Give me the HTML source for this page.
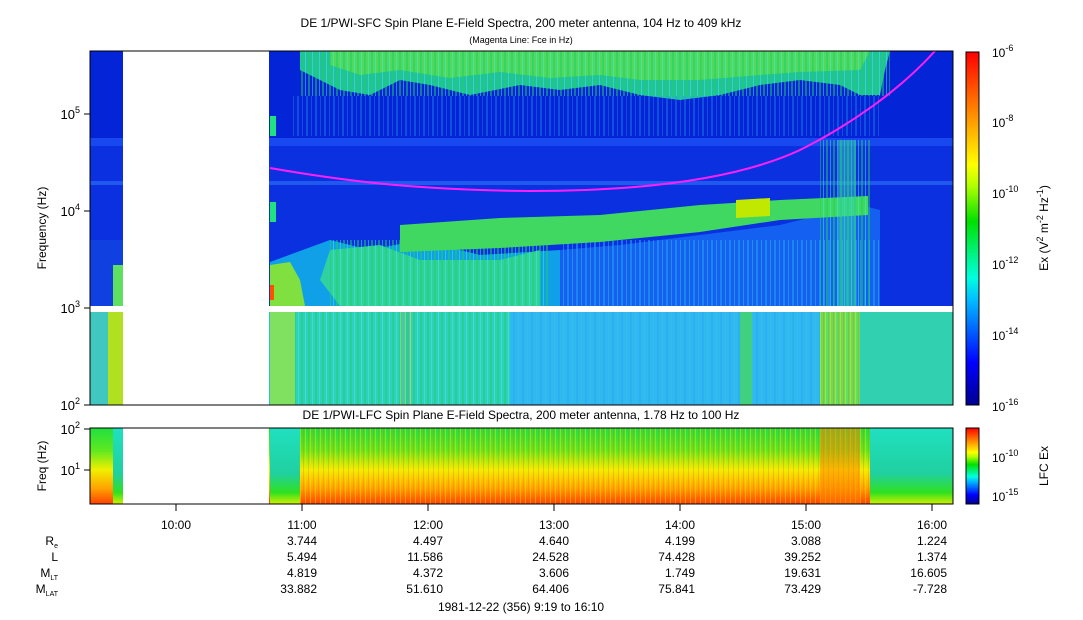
<!DOCTYPE html>
<html><head><meta charset="utf-8"><style>
body{margin:0;background:#fff;}
svg{display:block;font-family:"Liberation Sans",sans-serif;}
</style></head><body>
<svg width="1083" height="620" viewBox="0 0 1083 620" xmlns="http://www.w3.org/2000/svg">
<defs>
<linearGradient id="cb" x1="0" y1="1" x2="0" y2="0">
<stop offset="0" stop-color="#00008f"/><stop offset="0.12" stop-color="#0000ff"/><stop offset="0.3" stop-color="#00bfff"/><stop offset="0.36" stop-color="#00ffe0"/><stop offset="0.52" stop-color="#00e000"/><stop offset="0.62" stop-color="#b0ff00"/><stop offset="0.68" stop-color="#ffff00"/><stop offset="0.82" stop-color="#ff9000"/><stop offset="1" stop-color="#ff0000"/>
</linearGradient>
<linearGradient id="lowg" x1="0" y1="0" x2="0" y2="1">
<stop offset="0" stop-color="#20e040"/><stop offset="0.3" stop-color="#60e820"/><stop offset="0.55" stop-color="#f0f000"/><stop offset="0.8" stop-color="#ffa000"/><stop offset="1" stop-color="#ff4000"/>
</linearGradient>
<linearGradient id="lowr" x1="0" y1="0" x2="0" y2="1">
<stop offset="0" stop-color="#20e0c0"/><stop offset="0.6" stop-color="#20d0a0"/><stop offset="0.85" stop-color="#30e020"/><stop offset="1" stop-color="#d0f000"/>
</linearGradient>
<pattern id="vs" width="7" height="10" patternUnits="userSpaceOnUse"><rect width="2" height="10" fill="#20d060" opacity="0.5"/><rect x="4" width="1" height="10" fill="#40f0d0" opacity="0.5"/></pattern>
<pattern id="vb" width="9" height="10" patternUnits="userSpaceOnUse"><rect width="2" height="10" fill="#20a0f0" opacity="0.6"/><rect x="5" width="1" height="10" fill="#40d0e0" opacity="0.4"/></pattern>
<pattern id="vs2" width="5" height="10" patternUnits="userSpaceOnUse"><rect width="1" height="10" fill="#ffe000" opacity="0.45"/><rect x="3" width="1" height="10" fill="#ff6000" opacity="0.3"/></pattern>
</defs>
<text x="521" y="27" font-size="12" text-anchor="middle">DE 1/PWI-SFC  Spin Plane E-Field Spectra, 200 meter antenna, 104 Hz to 409 kHz</text>
<text x="521" y="43" font-size="9" text-anchor="middle">(Magenta Line: Fce in Hz)</text>

<rect x="90" y="51" width="863" height="255" fill="#0a30e0"/>
<rect x="90" y="51" width="863" height="90" fill="#0424d8"/>
<rect x="90" y="138" width="863" height="8" fill="#1848f0"/>
<rect x="90" y="181" width="863" height="4" fill="#2058f0"/>
<path d="M300,51 L890,51 L885,70 L880,95 L860,95 L840,85 L800,80 L760,85 L720,95 L680,100 L640,95 L600,85 L560,90 L520,85 L470,95 L430,85 L400,80 L370,95 L340,90 L320,80 L300,70Z" fill="#20c0a0"/>
<path d="M330,51 L870,51 L860,70 L800,72 L760,75 L700,80 L640,80 L600,75 L550,78 L500,72 L450,78 L400,70 L360,75 L330,65Z" fill="#50d860"/>
<rect x="300" y="51" width="590" height="45" fill="url(#vs)"/>
<rect x="290" y="96" width="590" height="40" fill="url(#vb)" opacity="0.6"/>
<!-- lower region -->
<path d="M270,262 L330,240 L370,250 L420,240 L480,255 L560,250 L560,306 L270,306Z" fill="#10a0e8"/>
<path d="M560,250 L620,245 L700,235 L780,225 L860,205 L880,210 L880,306 L560,306Z" fill="#1460f0"/>
<rect x="560" y="240" width="320" height="66" fill="url(#vb)"/>
<path d="M330,250 L380,245 L420,260 L500,260 L540,250 L540,306 L340,306 L320,280Z" fill="#30d0a0"/>
<rect x="330" y="240" width="220" height="66" fill="url(#vs)"/>
<path d="M400,225 L500,218 L600,215 L700,205 L780,200 L868,196 L868,215 L780,220 L700,232 L600,242 L500,248 L400,252Z" fill="#40d860"/>
<path d="M736,200 L770,198 L770,216 L736,218Z" fill="#c0e800"/>
<rect x="820" y="140" width="50" height="166" fill="url(#vs)"/>
<rect x="838" y="140" width="18" height="166" fill="#30d0b0" opacity="0.5"/>
<path d="M270,265 L290,262 L300,280 L305,306 L270,306Z" fill="#80e040"/>
<rect x="270" y="285" width="4" height="15" fill="#ff5000"/>
<rect x="270" y="116" width="6" height="20" fill="#20e080"/>
<rect x="270" y="202" width="6" height="20" fill="#20e080"/>
<rect x="90" y="240" width="33" height="66" fill="#1040e0"/>
<rect x="113" y="265" width="10" height="41" fill="#60e060"/>
<!-- below gap -->
<rect x="90" y="312" width="863" height="93" fill="#30b8f0"/>
<rect x="270" y="312" width="240" height="93" fill="#30d0c0"/>
<rect x="270" y="312" width="240" height="93" fill="url(#vs)"/>
<rect x="510" y="312" width="310" height="93" fill="url(#vb)" opacity="0.5"/>
<rect x="270" y="312" width="25" height="93" fill="#80e060"/>
<rect x="400" y="312" width="12" height="93" fill="url(#vs2)"/>
<rect x="740" y="312" width="12" height="93" fill="#40d080"/>
<rect x="820" y="312" width="40" height="93" fill="#60e060"/>
<rect x="820" y="312" width="40" height="93" fill="url(#vs2)"/>
<rect x="860" y="312" width="93" height="93" fill="#30d0b0"/>
<rect x="90" y="312" width="33" height="93" fill="#40c8c0"/>
<rect x="108" y="312" width="15" height="93" fill="#b0e020"/>
<rect x="90" y="306" width="863" height="6" fill="#fff"/>
<rect x="123" y="51" width="146" height="354" fill="#fff"/>
<path d="M270,168 C350,182 420,190 530,191 C650,191 740,178 800,150 C850,125 900,90 935,51" fill="none" stroke="#ff20ff" stroke-width="2"/>
<rect x="90" y="51" width="863" height="354" fill="none" stroke="#000"/>
<g stroke="#000">
<line x1="84" y1="405" x2="90" y2="405"/><line x1="84" y1="308" x2="90" y2="308"/><line x1="84" y1="211" x2="90" y2="211"/><line x1="84" y1="114" x2="90" y2="114"/>
</g>
<g font-size="13" text-anchor="end">
<text x="80" y="410">10<tspan font-size="9" dy="-6">2</tspan></text>
<text x="80" y="313">10<tspan font-size="9" dy="-6">3</tspan></text>
<text x="80" y="216">10<tspan font-size="9" dy="-6">4</tspan></text>
<text x="80" y="119">10<tspan font-size="9" dy="-6">5</tspan></text>
</g>
<text transform="translate(46,228) rotate(-90)" font-size="12" text-anchor="middle">Frequency (Hz)</text>

<rect x="966" y="52" width="13" height="353" fill="url(#cb)" stroke="#000"/>
<g font-size="12">
<text x="992" y="57">10<tspan font-size="9" dy="-6">-6</tspan></text>
<text x="992" y="127">10<tspan font-size="9" dy="-6">-8</tspan></text>
<text x="992" y="198">10<tspan font-size="9" dy="-6">-10</tspan></text>
<text x="992" y="269">10<tspan font-size="9" dy="-6">-12</tspan></text>
<text x="992" y="340">10<tspan font-size="9" dy="-6">-14</tspan></text>
<text x="992" y="411">10<tspan font-size="9" dy="-6">-16</tspan></text>
</g>
<text transform="translate(1048,228) rotate(-90)" font-size="12" text-anchor="middle">Ex (V<tspan font-size="9" dy="-5">2</tspan><tspan dy="5"> m</tspan><tspan font-size="9" dy="-5">-2</tspan><tspan dy="5"> Hz</tspan><tspan font-size="9" dy="-5">-1</tspan><tspan dy="5">)</tspan></text>

<text x="521" y="419" font-size="12" text-anchor="middle">DE 1/PWI-LFC  Spin Plane E-Field Spectra, 200 meter antenna, 1.78 Hz to 100 Hz</text>
<rect x="90" y="428" width="863" height="76" fill="url(#lowg)"/>
<rect x="270" y="428" width="600" height="76" fill="url(#vs2)"/>
<rect x="270" y="428" width="30" height="76" fill="url(#lowr)"/>
<rect x="820" y="428" width="40" height="76" fill="#ff8000" opacity="0.5"/>
<rect x="870" y="428" width="83" height="76" fill="url(#lowr)"/>
<rect x="113" y="428" width="10" height="76" fill="url(#lowr)"/>
<rect x="123" y="428" width="146" height="76" fill="#fff"/>
<rect x="90" y="428" width="863" height="76" fill="none" stroke="#000"/>
<g stroke="#000"><line x1="84" y1="429" x2="90" y2="429"/><line x1="84" y1="470" x2="90" y2="470"/></g>
<g font-size="13" text-anchor="end">
<text x="80" y="434">10<tspan font-size="9" dy="-6">2</tspan></text>
<text x="80" y="475">10<tspan font-size="9" dy="-6">1</tspan></text>
</g>
<text transform="translate(46,466) rotate(-90)" font-size="12" text-anchor="middle">Freq (Hz)</text>
<rect x="966" y="428" width="13" height="76" fill="url(#cb)" stroke="#000"/>
<g font-size="12">
<text x="992" y="462">10<tspan font-size="9" dy="-6">-10</tspan></text>
<text x="992" y="501">10<tspan font-size="9" dy="-6">-15</tspan></text>
</g>
<text transform="translate(1048,466) rotate(-90)" font-size="12" text-anchor="middle">LFC Ex</text>

<g stroke="#000">
<line x1="176" y1="504" x2="176" y2="511"/><line x1="302" y1="504" x2="302" y2="511"/><line x1="428" y1="504" x2="428" y2="511"/><line x1="554" y1="504" x2="554" y2="511"/><line x1="680" y1="504" x2="680" y2="511"/><line x1="806" y1="504" x2="806" y2="511"/><line x1="932" y1="504" x2="932" y2="511"/>
</g>
<g font-size="12" text-anchor="middle">
<text x="176" y="529">10:00</text><text x="302" y="529">11:00</text><text x="428" y="529">12:00</text><text x="554" y="529">13:00</text><text x="680" y="529">14:00</text><text x="806" y="529">15:00</text><text x="932" y="529">16:00</text>
</g>
<g font-size="12" text-anchor="end">
<text x="58" y="545">R<tspan font-size="7" dy="3">e</tspan></text>
<text x="58" y="561">L</text>
<text x="58" y="577">M<tspan font-size="7" dy="3">LT</tspan></text>
<text x="58" y="593">M<tspan font-size="7" dy="3">LAT</tspan></text>
<text x="317" y="545">3.744</text><text x="443" y="545">4.497</text><text x="569" y="545">4.640</text><text x="695" y="545">4.199</text><text x="821" y="545">3.088</text><text x="947" y="545">1.224</text>
<text x="317" y="561">5.494</text><text x="443" y="561">11.586</text><text x="569" y="561">24.528</text><text x="695" y="561">74.428</text><text x="821" y="561">39.252</text><text x="947" y="561">1.374</text>
<text x="317" y="577">4.819</text><text x="443" y="577">4.372</text><text x="569" y="577">3.606</text><text x="695" y="577">1.749</text><text x="821" y="577">19.631</text><text x="947" y="577">16.605</text>
<text x="317" y="593">33.882</text><text x="443" y="593">51.610</text><text x="569" y="593">64.406</text><text x="695" y="593">75.841</text><text x="821" y="593">73.429</text><text x="947" y="593">-7.728</text>
</g>
<text x="521" y="611" font-size="12" text-anchor="middle">1981-12-22 (356) 9:19 to 16:10</text>
</svg>
</body></html>
